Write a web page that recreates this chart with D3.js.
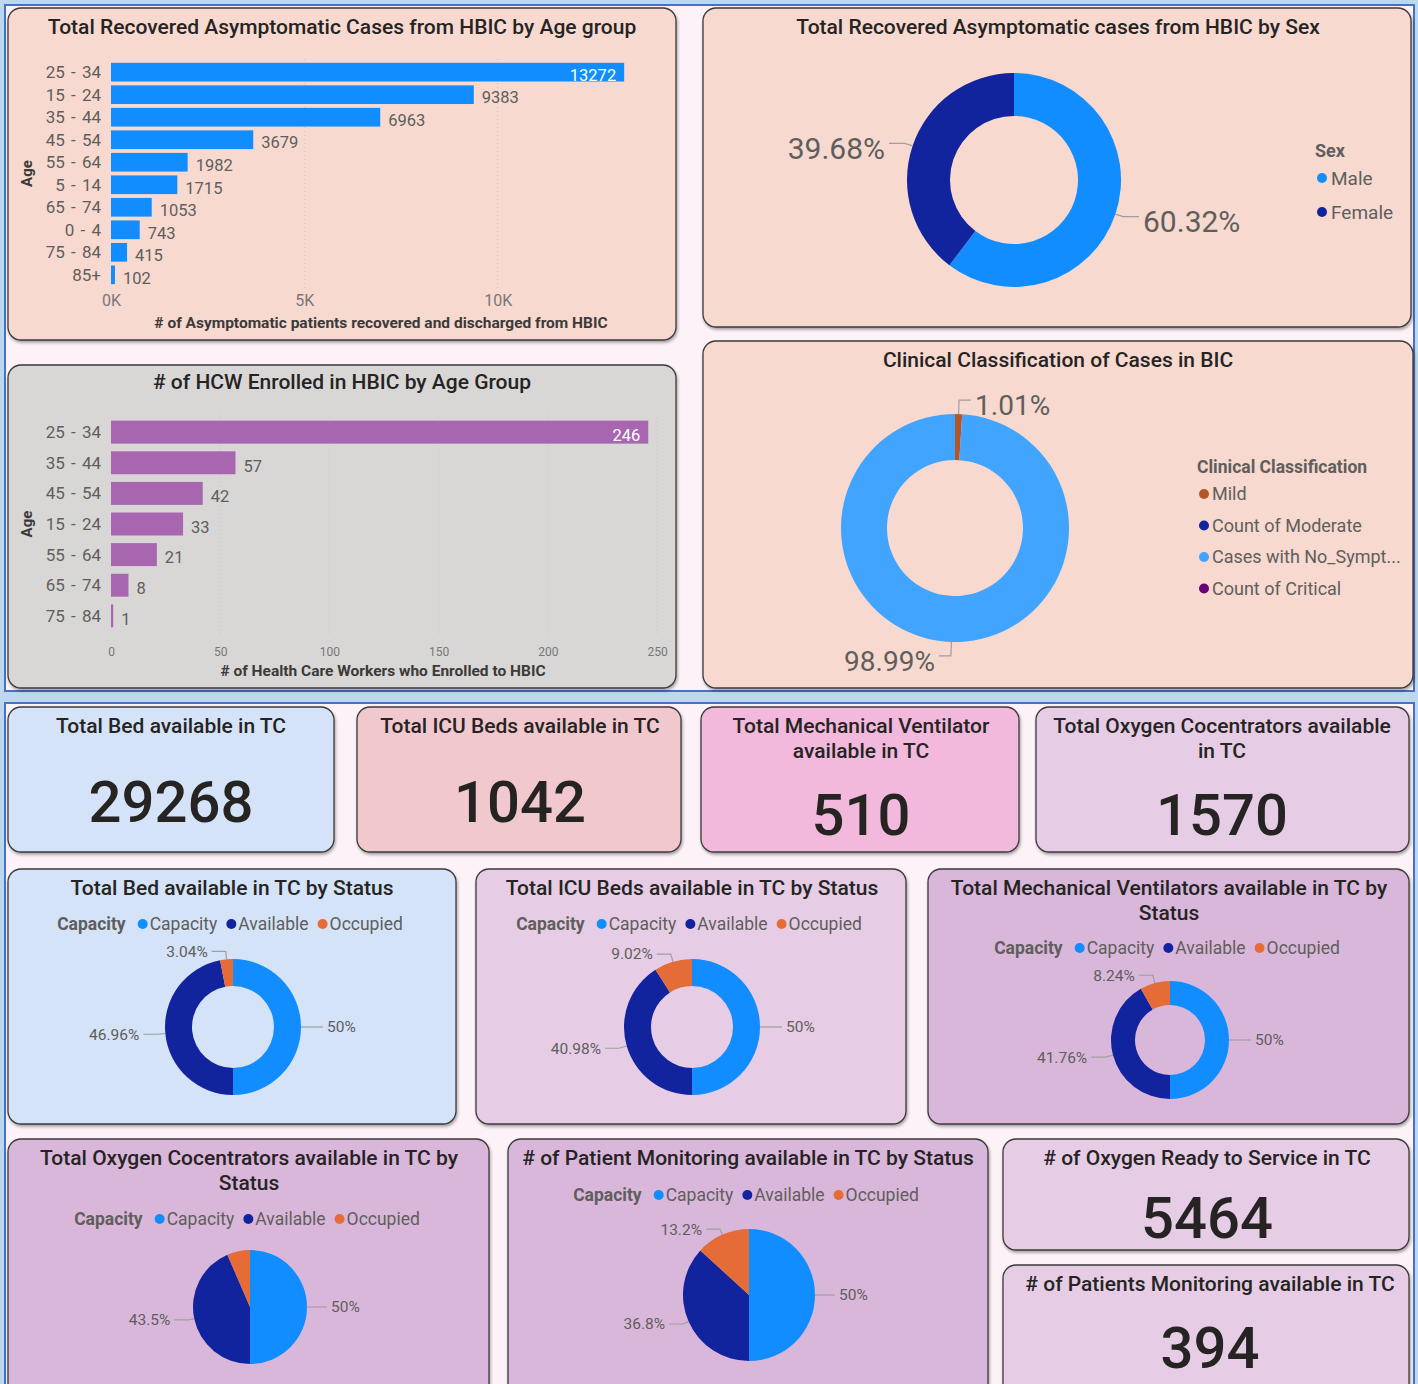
<!DOCTYPE html>
<html>
<head>
<meta charset="utf-8">
<script src="https://cdn.jsdelivr.net/npm/d3@7"></script>
<style>
  body { margin: 0; background: #bdd7ee; }
  svg { display: block; font-family: Roboto, "DejaVu Sans", sans-serif; }
</style>
</head>
<body>
<svg id="dash" width="1418" height="1384"></svg>
<script>
// ---- data ----
const ageGroups = ['25 - 34', '15 - 24', '35 - 44', '45 - 54', '55 - 64', '5 - 14', '65 - 74', '0 - 4', '75 - 84', '85+'];
const ageRecovered = [13272, 9383, 6963, 3679, 1982, 1715, 1053, 743, 415, 102];
const ageTicks = [0, 5000, 10000];

const hcwAgeGroups = ['25 - 34', '35 - 44', '45 - 54', '15 - 24', '55 - 64', '65 - 74', '75 - 84'];
const hcwEnrolled = [246, 57, 42, 33, 21, 8, 1];
const hcwTicks = [0, 50, 100, 150, 200, 250];

const sexCategories = ['Male', 'Female'];
const sexShares = [60.32, 39.68];

const clinicalCategories = ['Mild', 'Count of Moderate', 'Cases with No_Sympt...', 'Count of Critical'];
const clinicalShares = [1.01, 0, 98.99, 0];

const statusCategories = ['Capacity', 'Available', 'Occupied'];
const bedStatus = [50, 46.96, 3.04];
const icuStatus = [50, 40.98, 9.02];
const ventStatus = [50, 41.76, 8.24];
const oxygenStatus = [50, 43.5, 6.5];
const monitorStatus = [50, 36.8, 13.2];

const kpiTitles = [
  ['Total Bed available in TC'],
  ['Total ICU Beds available in TC'],
  ['Total Mechanical Ventilator', 'available in TC'],
  ['Total Oxygen Cocentrators available', 'in TC'],
  ['# of Oxygen Ready to Service in TC'],
  ['# of Patients Monitoring available in TC']
];
const kpiValues = [29268, 1042, 510, 1570, 5464, 394];

// ---- colours ----
const blue = '#118dff', navy = '#12239e', orange = '#e66c37';
const statusColors = [blue, navy, orange];
const clinicalColors = ['#b5562a', navy, '#41a4ff', '#6b007b'];
const textDark = '#252423', textGray = '#605e5c';

const svg = d3.select('#dash');

// drop shadow for the cards
const defs = svg.append('defs');
defs.append('filter').attr('id', 'shadow').attr('x', '-5%').attr('y', '-5%').attr('width', '110%').attr('height', '115%')
  .append('feDropShadow').attr('dx', 1).attr('dy', 2).attr('stdDeviation', 1.5)
  .attr('flood-color', '#000').attr('flood-opacity', 0.35);

// two page containers with a blue rule
svg.append('rect').attr('x', 5).attr('y', 5).attr('width', 1409).attr('height', 686)
  .attr('fill', '#fdf2f7').attr('stroke', '#4472c4').attr('stroke-width', 2);
svg.append('rect').attr('x', 5).attr('y', 703).attr('width', 1409).attr('height', 700)
  .attr('fill', '#fdf2f7').attr('stroke', '#4472c4').attr('stroke-width', 2);

function panel(x, y, w, h, fill) {
  svg.append('rect').attr('x', x).attr('y', y).attr('width', w).attr('height', h)
    .attr('rx', 13).attr('fill', fill).attr('stroke', '#3b3a39').attr('stroke-width', 1.3)
    .attr('filter', 'url(#shadow)');
  return svg.append('g');
}

function title(g, lines, cx, y, size) {
  lines.forEach((t, i) => {
    g.append('text').attr('x', cx).attr('y', y + i * 25).attr('text-anchor', 'middle')
      .attr('font-size', size || 21).attr('font-weight', 500).attr('fill', textDark).text(t);
  });
}

// horizontal bar chart
function drawBars(g, cats, vals, o) {
  const x = d3.scaleLinear().domain(o.domain).range([o.x0, o.x1]);
  const y = d3.scaleBand().domain(cats).range([o.y0, o.y1]).padding(o.pad);
  const bw = y.bandwidth();
  const max = d3.max(vals);

  g.selectAll('.grid').data(o.ticks.slice(1)).join('line')
    .attr('x1', d => x(d)).attr('x2', d => x(d)).attr('y1', o.y0).attr('y2', o.y1)
    .attr('stroke', '#c8c6c4').attr('stroke-dasharray', '1,3');

  g.selectAll('.bar').data(cats).join('rect')
    .attr('x', x(0)).attr('y', d => y(d))
    .attr('width', (d, i) => x(vals[i]) - x(0)).attr('height', bw)
    .attr('fill', o.color);

  g.selectAll('.cat').data(cats).join('text')
    .attr('x', o.x0 - 10).attr('y', d => y(d) + bw / 2).attr('dy', '0.35em')
    .attr('text-anchor', 'end').attr('font-size', 17).attr('word-spacing', 2)
    .attr('fill', textGray).text(d => d);

  g.selectAll('.val').data(cats).join('text')
    .attr('x', (d, i) => vals[i] === max ? x(vals[i]) - 8 : x(vals[i]) + 8)
    .attr('y', d => y(d) + bw / 2 + 3).attr('dy', '0.35em')
    .attr('text-anchor', (d, i) => vals[i] === max ? 'end' : 'start')
    .attr('font-size', 16.5).attr('fill', (d, i) => vals[i] === max ? '#fff' : textGray)
    .text((d, i) => vals[i]);

  const axis = d3.axisBottom(x).tickValues(o.ticks).tickFormat(o.fmt).tickSize(0).tickPadding(0);
  g.append('g').attr('transform', `translate(0,${o.axisY})`).call(axis)
    .call(a => a.select('.domain').remove())
    .selectAll('text').attr('font-size', o.tickSize).attr('fill', '#777').attr('font-family', 'Roboto');

  g.append('text').attr('x', o.axisTitleX).attr('y', o.axisTitleY).attr('text-anchor', 'middle')
    .attr('font-size', 15.5).attr('font-weight', 'bold').attr('fill', '#3b3a39').text(o.axisTitle);

  g.append('text').attr('transform', `translate(32,${(o.y0 + o.y1) / 2}) rotate(-90)`)
    .attr('text-anchor', 'middle').attr('font-size', 15).attr('font-weight', 'bold')
    .attr('fill', '#3b3a39').text('Age');
}

// donut / pie with Power BI style leader labels
function drawDonut(g, vals, colors, o) {
  const arcs = d3.pie().sort(null).value(d => d)(vals);
  const arc = d3.arc().innerRadius(o.ri).outerRadius(o.ro);
  const gg = g.append('g').attr('transform', `translate(${o.cx},${o.cy})`);
  gg.selectAll('path').data(arcs).join('path').attr('d', arc).attr('fill', (d, i) => colors[i]);

  arcs.forEach((d, i) => {
    if (!o.labels[i]) return;
    const a = (d.startAngle + d.endAngle) / 2;
    const s = Math.sin(a), c = -Math.cos(a);
    const dir = s >= 0 ? 1 : -1;
    const p0 = [s * o.ro, c * o.ro];
    const p1 = [s * (o.ro + o.e), c * (o.ro + o.e)];
    const p2 = [p1[0] + dir * o.h, p1[1]];
    gg.append('polyline').attr('points', [p0, p1, p2].map(p => p.join(',')).join(' '))
      .attr('fill', 'none').attr('stroke', '#a19f9d').attr('stroke-width', 1.2);
    gg.append('text').attr('x', p2[0] + dir * 4).attr('y', p2[1] + (o.dy || 0)).attr('dy', '0.35em')
      .attr('text-anchor', dir > 0 ? 'start' : 'end')
      .attr('font-size', o.fs).attr('fill', textGray).text(vals[i] + '%');
  });
}

// one-line legend: bold heading then coloured dots
function statusLegend(g, cx, y) {
  const lg = g.append('g');
  let pos = 0;
  const head = lg.append('text').attr('x', 0).attr('y', y).attr('font-size', 17.5)
    .attr('font-weight', 'bold').attr('fill', textGray).text('Capacity');
  pos += head.node().getComputedTextLength() + 12;
  statusCategories.forEach((c, i) => {
    lg.append('circle').attr('cx', pos + 5).attr('cy', y - 6).attr('r', 5).attr('fill', statusColors[i]);
    const t = lg.append('text').attr('x', pos + 12).attr('y', y).attr('font-size', 17.5)
      .attr('fill', textGray).text(c);
    pos += 12 + t.node().getComputedTextLength() + 9;
  });
  pos -= 9;
  lg.attr('transform', `translate(${cx - pos / 2},0)`);
}

function kpi(g, lines, value, cx, titleY, valueY) {
  title(g, lines, cx, titleY);
  g.append('text').attr('x', cx).attr('y', valueY).attr('text-anchor', 'middle')
    .attr('font-size', 58).attr('font-weight', 500)
    .attr('fill', textDark).text(value);
}

// ---- top left: recovered by age ----
const p1 = panel(8, 8, 668, 332, '#f7d9d0');
title(p1, ['Total Recovered Asymptomatic Cases from HBIC by Age group'], 342, 34);
drawBars(p1, ageGroups, ageRecovered, {
  domain: [0, 13500], x0: 111, x1: 633, y0: 59, y1: 288, pad: 0.17,
  ticks: ageTicks, fmt: d => (d / 1000) + 'K', tickSize: 16, axisY: 295,
  color: blue, axisTitle: '# of Asymptomatic patients recovered and discharged from HBIC',
  axisTitleX: 381, axisTitleY: 328
});

// ---- top right: by sex ----
const p2 = panel(703, 8, 708, 319, '#f7d9d0');
title(p2, ['Total Recovered Asymptomatic cases from HBIC by Sex'], 1058, 34);
drawDonut(p2, sexShares, [blue, navy], { cx: 1014, cy: 180, ro: 107, ri: 64, e: 8, h: 16, fs: 30, dy: 5, labels: [true, true] });
p2.append('text').attr('x', 1315).attr('y', 157).attr('font-size', 18).attr('font-weight', 'bold').attr('fill', textGray).text('Sex');
sexCategories.forEach((c, i) => {
  const yy = 185 + i * 34;
  p2.append('circle').attr('cx', 1322).attr('cy', yy - 7).attr('r', 5).attr('fill', [blue, navy][i]);
  p2.append('text').attr('x', 1331).attr('y', yy).attr('font-size', 19).attr('fill', textGray).text(c);
});

// ---- HCW enrolled by age ----
const p3 = panel(8, 365, 668, 323, '#d9d6d6');
title(p3, ['# of HCW Enrolled in HBIC by Age Group'], 342, 389);
drawBars(p3, hcwAgeGroups, hcwEnrolled, {
  domain: [0, 250], x0: 111, x1: 657, y0: 413, y1: 635, pad: 0.25,
  ticks: hcwTicks, fmt: d => d, tickSize: 12, axisY: 647,
  color: '#a866b0', axisTitle: '# of Health Care Workers who Enrolled to HBIC',
  axisTitleX: 383, axisTitleY: 676
});

// ---- clinical classification ----
const p4 = panel(703, 341, 710, 347, '#f7d9d0');
title(p4, ['Clinical Classification of Cases in BIC'], 1058, 367);
drawDonut(p4, clinicalShares, clinicalColors, { cx: 955, cy: 528, ro: 114, ri: 68, e: 14, h: 12, fs: 28, dy: 5, labels: [true, false, true, false] });
p4.append('text').attr('x', 1197).attr('y', 473).attr('font-size', 17.5).attr('font-weight', 'bold').attr('fill', textGray).text('Clinical Classification');
clinicalCategories.forEach((c, i) => {
  const yy = 500 + i * 31.5;
  p4.append('circle').attr('cx', 1204).attr('cy', yy - 6).attr('r', 5).attr('fill', clinicalColors[i]);
  p4.append('text').attr('x', 1212).attr('y', yy).attr('font-size', 18).attr('fill', textGray).text(c);
});

// ---- KPI cards ----
kpi(panel(8, 707, 326, 145, '#d4e3f8'), kpiTitles[0], kpiValues[0], 171, 733, 822);
kpi(panel(357, 707, 324, 145, '#f2c8cf'), kpiTitles[1], kpiValues[1], 520, 733, 822);
kpi(panel(701, 707, 318, 145, '#f2b9dc'), kpiTitles[2], kpiValues[2], 861, 733, 835);
kpi(panel(1036, 707, 373, 145, '#e6cde5'), kpiTitles[3], kpiValues[3], 1222, 733, 835);

// ---- status donuts ----
const d1 = panel(8, 869, 448, 255, '#d4e3f8');
title(d1, ['Total Bed available in TC by Status'], 232, 895);
statusLegend(d1, 230, 930);
drawDonut(d1, bedStatus, statusColors, { cx: 233, cy: 1027, ro: 68, ri: 41, e: 8, h: 14, fs: 15.5, labels: [true, true, true] });

const d2 = panel(476, 869, 430, 255, '#e6cde5');
title(d2, ['Total ICU Beds available in TC by Status'], 692, 895);
statusLegend(d2, 689, 930);
drawDonut(d2, icuStatus, statusColors, { cx: 692, cy: 1027, ro: 68, ri: 41, e: 8, h: 14, fs: 15.5, labels: [true, true, true] });

const d3p = panel(928, 869, 481, 255, '#d9b7da');
title(d3p, ['Total Mechanical Ventilators available in TC by', 'Status'], 1169, 895);
statusLegend(d3p, 1167, 954);
drawDonut(d3p, ventStatus, statusColors, { cx: 1170, cy: 1040, ro: 59, ri: 35, e: 8, h: 14, fs: 15.5, labels: [true, true, true] });

const d4 = panel(8, 1139, 481, 270, '#d9b7da');
title(d4, ['Total Oxygen Cocentrators available in TC by', 'Status'], 249, 1165);
statusLegend(d4, 247, 1225);
drawDonut(d4, oxygenStatus, statusColors, { cx: 250, cy: 1307, ro: 57, ri: 0, e: 6, h: 14, fs: 15.5, labels: [true, true, false] });

const d5 = panel(508, 1139, 480, 270, '#d9b7da');
title(d5, ['# of Patient Monitoring available in TC by Status'], 748, 1165);
statusLegend(d5, 746, 1201);
drawDonut(d5, monitorStatus, statusColors, { cx: 749, cy: 1295, ro: 66, ri: 0, e: 6, h: 14, fs: 15.5, labels: [true, true, true] });

// ---- last two KPI cards ----
kpi(panel(1003, 1139, 406, 111, '#e6cde5'), kpiTitles[4], kpiValues[4], 1207, 1165, 1238);
kpi(panel(1003, 1265, 406, 140, '#e6cde5'), kpiTitles[5], kpiValues[5], 1210, 1291, 1368);
</script>
</body>
</html>
